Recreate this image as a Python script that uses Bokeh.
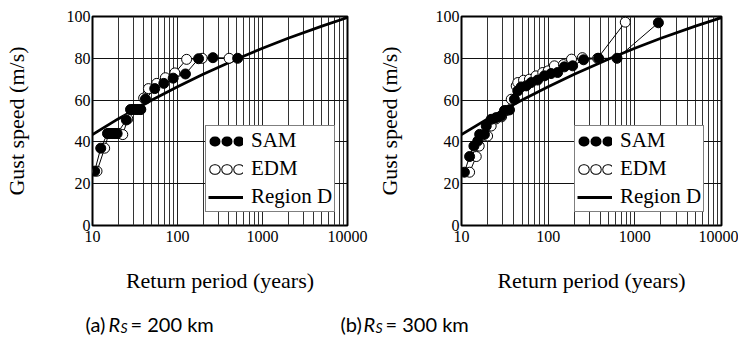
from bokeh.plotting import figure
from bokeh.models import FixedTicker, Legend, LegendItem, Range1d, BasicTickFormatter
from bokeh.layouts import row, column
from bokeh.core.properties import value
from bokeh.embed import file_html
from bokeh.resources import INLINE

# ---------------- data ----------------
x_ticks = [10, 100, 1000, 10000]
x_tick_labels = ["10", "100", "1000", "10000"]
y_ticks = [0, 20, 40, 60, 80, 100]

# Region D design curve
regD_T = [10, 20, 50, 100, 200, 500, 1000, 2000, 5000, 10000]
regD_V = [43.5, 51, 60, 66.4, 72.4, 79.7, 84.8, 89.6, 95.4, 99.5]

# (a) Rs = 200 km
sam_a_T = [10.6, 12.5, 15, 16, 17, 18, 19.5, 25, 28, 30.5, 33.5, 37, 42, 54, 69, 89, 124, 177, 261, 510]
sam_a_V = [26, 37, 44, 44, 44, 44, 44, 50.5, 55.5, 55.5, 55.5, 55.5, 60.5, 65.5, 68, 70.5, 72.5, 79.8, 80.3, 80]
edm_a_T = [11.3, 13.9, 15.5, 17, 18.5, 20.5, 22.7, 26, 29.5, 33, 36.5, 40, 45.5, 57, 72, 93, 128, 195, 405]
edm_a_V = [26, 37, 44, 44, 44, 44, 43.5, 51, 55.5, 55.5, 55.5, 61, 65.5, 68, 70.7, 73, 79.5, 80, 80]

# (b) Rs = 300 km
sam_b_T = [10.8, 12.4, 13.9, 15.4, 16.2, 18.4, 19.3, 22, 25, 28.6, 31.3, 35.8, 40.8, 44.6, 48.8, 55.8, 63.6, 75.6, 90.5, 108, 128.6, 153.7, 191.7, 256, 382, 623, 1870]
sam_b_V = [25.5, 33, 38, 40.4, 43.6, 43.6, 47.6, 50.8, 51.6, 52.4, 55, 55.3, 60.4, 64.4, 66.3, 66.8, 68.4, 69.6, 71.6, 72.7, 73.2, 75.9, 76.4, 79.3, 80, 80, 97]
edm_b_T = [12.4, 14.8, 16, 20, 22, 25, 29, 33, 37.5, 42.8, 44.6, 52, 60.8, 72.4, 86.6, 100, 118, 150, 186, 248, 372, 776]
edm_b_V = [25.5, 33, 38, 42.8, 47.6, 51, 52, 55, 60.4, 66.8, 68.4, 69.5, 70, 71.6, 73.2, 74, 76.4, 77, 79.6, 80.3, 80, 97.3]

captions = [("(a)", "R", "S", "= 200 km"), ("(b)", "R", "S", "= 300 km")]

SERIF = "'Liberation Serif', 'Times New Roman', serif"
SANS = "Lato, 'Open Sans', sans-serif"
minor = [m * 10 ** k for k in range(1, 4) for m in range(2, 10)]
NAN = float("nan")


def make_panel(sam_T, sam_V, edm_T, edm_V, bl, br, ylab_standoff):
    p = figure(width=369, height=300, x_axis_type="log",
               x_range=Range1d(10, 10000), y_range=Range1d(0, 100),
               output_backend="svg", toolbar_location=None,
               min_border_left=bl, min_border_right=br,
               min_border_top=16, min_border_bottom=75)
    p.outline_line_color = "black"
    p.outline_line_width = 2
    p.background_fill_color = "white"
    p.border_fill_color = "white"

    xt = FixedTicker(ticks=x_ticks, minor_ticks=minor)
    p.xaxis.ticker = xt
    p.xgrid.ticker = xt
    p.xaxis.formatter = BasicTickFormatter()
    p.xaxis.major_label_overrides = {t: s for t, s in zip(x_ticks, x_tick_labels)}
    p.yaxis.ticker = FixedTicker(ticks=y_ticks)

    p.xgrid.grid_line_color = "#222222"
    p.xgrid.grid_line_width = 1
    p.xgrid.minor_grid_line_color = "#333333"
    p.xgrid.minor_grid_line_width = 1
    p.ygrid.grid_line_color = "#111111"
    p.ygrid.grid_line_width = 1

    for ax in (p.xaxis, p.yaxis):
        ax.axis_line_color = None
        ax.major_tick_line_color = None
        ax.minor_tick_line_color = None
        ax.major_tick_out = 0
        ax.major_tick_in = 0
        ax.minor_tick_out = 0
        ax.minor_tick_in = 0
        ax.major_label_text_font = SERIF
        ax.major_label_text_font_size = "16px"
        ax.major_label_text_color = "black"
        ax.axis_label_text_font = SERIF
        ax.axis_label_text_font_size = "22px"
        ax.axis_label_text_font_style = "normal"
        ax.axis_label_text_color = "black"

    p.xaxis.axis_label = "Return period (years)"
    p.yaxis.axis_label = "Gust speed (m/s)"
    p.xaxis.major_label_standoff = 5
    p.xaxis.axis_label_standoff = 23
    p.yaxis.major_label_standoff = 2
    p.yaxis.axis_label_standoff = ylab_standoff

    reg = p.line(regD_T, regD_V, line_color="black", line_width=2.8)
    p.line(edm_T, edm_V, line_color="black", line_width=1)
    p.line(sam_T, sam_V, line_color="black", line_width=1)
    p.scatter(edm_T, edm_V, marker="circle", size=10, fill_color="white",
              line_color="black", line_width=1)
    p.scatter(sam_T, sam_V, marker="circle", size=10, fill_color="black",
              line_color="black", line_width=1)

    # legend sample glyphs: rows of three circles made with round-capped short dashes
    # (renderers hold a single missing value so that nothing shows in the plot area)
    dash = dict(line_cap="round", line_dash="1 11", line_dash_offset=6)
    leg_sam = p.line(x=[NAN], y=[NAN], line_color="black", line_width=10, **dash)
    leg_edm_o = p.line(x=[NAN], y=[NAN], line_color="black", line_width=10.5, **dash)
    leg_edm_i = p.line(x=[NAN], y=[NAN], line_color="white", line_width=8.5, **dash)

    legend = Legend(items=[
        LegendItem(label="SAM", renderers=[leg_sam]),
        LegendItem(label="EDM", renderers=[leg_edm_o, leg_edm_i]),
        LegendItem(label="Region D", renderers=[reg]),
    ], location=(113, 13))
    legend.margin = 0
    legend.padding = 2
    legend.spacing = 3
    legend.glyph_width = 35
    legend.glyph_height = 24
    legend.label_height = 24
    legend.label_width = 78
    legend.label_standoff = 8
    legend.label_text_font = SERIF
    legend.label_text_font_size = "21px"
    legend.label_text_color = "black"
    legend.border_line_color = "black"
    legend.border_line_width = 1.5
    legend.background_fill_color = "white"
    legend.background_fill_alpha = 1
    p.add_layout(legend, "center")
    return p


p1 = make_panel(sam_a_T, sam_a_V, edm_a_T, edm_a_V, 88, 22, 35)
p2 = make_panel(sam_b_T, sam_b_V, edm_b_T, edm_b_V, 92, 17, 31)

# captions
cap = figure(width=738, height=36, x_range=Range1d(0, 738), y_range=Range1d(0, 36),
             x_axis_location=None, y_axis_location=None,
             output_backend="svg", toolbar_location=None,
             min_border_left=0, min_border_right=0, min_border_top=0, min_border_bottom=0)
cap.grid.visible = False
cap.outline_line_color = None
cap_x0 = [85, 340]
mid = 13
for (pre, r, s, post), x0 in zip(captions, cap_x0):
    cap.text(x=[x0], y=[mid], text=[pre], text_font=value(SANS), text_font_size="20px",
             text_baseline="middle", text_align="left", text_color="black")
    cap.text(x=[x0 + 23], y=[mid], text=[r], text_font=value(SANS), text_font_size="20px",
             text_font_style="italic", text_baseline="middle", text_align="left",
             text_color="black")
    cap.text(x=[x0 + 35], y=[mid - 4], text=[s], text_font=value(SANS), text_font_size="14px",
             text_font_style="italic", text_baseline="middle", text_align="left",
             text_color="black")
    cap.text(x=[x0 + 45], y=[mid], text=[post], text_font=value(SANS), text_font_size="20px",
             text_baseline="middle", text_align="left", text_color="black")

layout = column(row(p1, p2), cap)
open("out.html", "w").write(file_html(layout, INLINE))
